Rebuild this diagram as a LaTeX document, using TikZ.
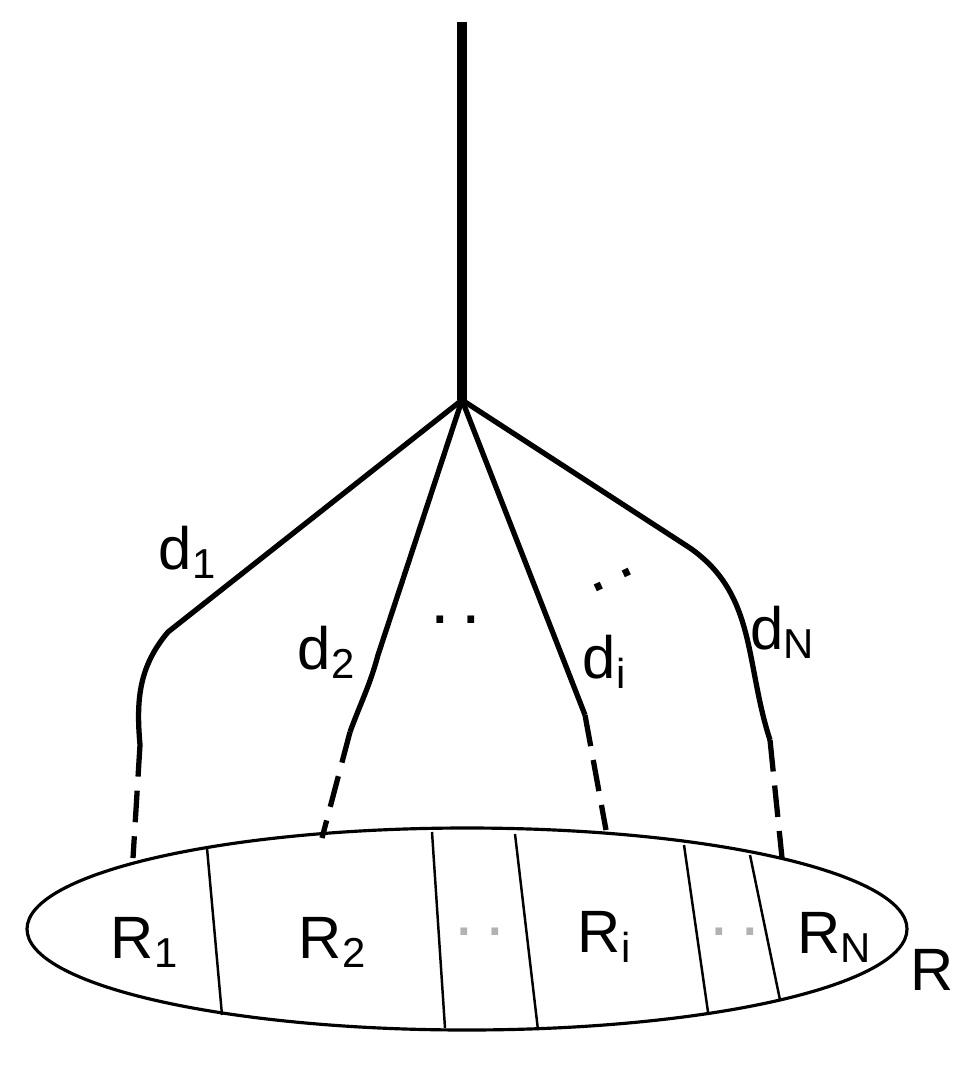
\documentclass[tikz,border=0pt]{standalone}
\usepackage{fontspec}
\setmainfont{Liberation Sans}
\begin{document}
\begin{tikzpicture}[x=0.01cm,y=-0.01cm,
  br/.style={line width=1.5pt,line join=round},
  dsh/.style={line width=1.5pt,dash pattern=on 9pt off 4pt},
  lbl/.style={font=\fontsize{17}{20}\selectfont,inner sep=0pt},
  dts/.style={font=\fontsize{20}{20}\selectfont,inner sep=0pt},
  dv/.style={line width=0.7pt}]
\useasboundingbox (0,0) rectangle (975,1076);
\coordinate (top) at (462,22);
\coordinate (hub) at (462,400);
\draw[line width=2.8pt] (top) -- (hub);
\coordinate (e1) at (140,745); \coordinate (f1) at (133,858);
\coordinate (e2) at (350,732); \coordinate (f2) at (322,838);
\coordinate (e3) at (585,715); \coordinate (f3) at (606,830);
\coordinate (e4) at (770,740); \coordinate (f4) at (782,858);
\draw[br] (hub) -- (168,632) to[out=-130,in=95] (e1);
\draw[br] (hub) -- (378,655) to[out=-105,in=70] (e2);
\draw[br] (hub) -- (e3);
\draw[br] (hub) -- (690,548) to[out=-35,in=108] (e4);
\draw[dsh] (e1) -- (f1); \draw[dsh] (e2) -- (f2);
\draw[dsh] (e3) -- (f3); \draw[dsh] (e4) -- (f4);
\draw[line width=0.9pt] (467,929) ellipse [x radius=440, y radius=101];
\draw[dv] (207,848) -- (222,1015);
\draw[dv] (432,832) -- (445,1028);
\draw[dv] (515,834) -- (538,1030);
\draw[dv] (684,845) -- (708,1012);
\draw[dv] (750,855) -- (780,1000);
\node[lbl] (r1) at (145,942) {R$_{\mathrm{1}}$};
\node[lbl] (r2) at (333,942) {R$_{\mathrm{2}}$};
\node[dts,text=gray!60] (g1) at (480,932) {.\,.};
\node[lbl] (ri) at (605,937) {R$_{\mathrm{i}}$};
\node[dts,text=gray!60] (g2) at (735,932) {.\,.};
\node[lbl] (rn) at (835,937) {R$_{\mathrm{N}}$};
\node[lbl] (rr) at (932,970) {R};
\node[lbl] (d1) at (188,552) {d$_{\mathrm{1}}$};
\node[lbl] (d2) at (327,652) {d$_{\mathrm{2}}$};
\node[dts] (dd) at (456,620) {.\,.};
\node[lbl] (di) at (605,662) {d$_{\mathrm{i}}$};
\node[dts,rotate=25] (dd2) at (613,580) {.\,.};
\node[lbl] (dn) at (783,632) {d$_{\mathrm{N}}$};
\end{tikzpicture}
\end{document}
